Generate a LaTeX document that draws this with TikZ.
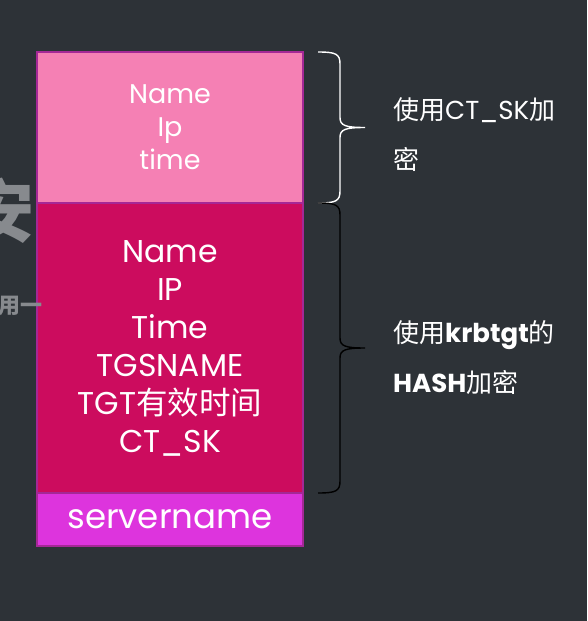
\documentclass[tikz,border=0pt]{standalone}
\usepackage{fontspec}
\setmainfont{Poppins}
\newfontfamily\cjk{Noto Sans CJK SC}
\usetikzlibrary{calc}
\definecolor{SlideBg}{RGB}{45,50,55}
\definecolor{TktPink}{RGB}{245,128,180}
\definecolor{TktRed}{RGB}{204,12,94}
\definecolor{TktMagenta}{RGB}{221,52,221}
\definecolor{TktEdge}{RGB}{165,40,150}
\definecolor{FaintGray}{RGB}{135,138,142}

% curly brace to the right of a ticket part
\newcommand{\segbrace}[2]{%
  \draw[#2, line width=1.4pt] let \p1=(#1.north east), \p2=(#1.south east), \p3=(#1.east) in
    (\x1+15pt,\y1) .. controls (\x1+33pt,\y1) and (\x1+37pt,\y1-2pt) .. (\x1+37pt,\y1-12pt)
    -- (\x1+37pt,\y3+10pt) .. controls (\x1+37pt,\y3+2pt) and (\x1+42pt,\y3) .. (\x1+62pt,\y3)
    .. controls (\x1+42pt,\y3) and (\x1+37pt,\y3-2pt) .. (\x1+37pt,\y3-10pt)
    -- (\x1+37pt,\y2+12pt) .. controls (\x1+37pt,\y2+2pt) and (\x1+33pt,\y2) .. (\x1+15pt,\y2);}

\tikzset{
  seg/.style={draw=TktEdge, line width=1.5pt, minimum width=266pt, align=center,
    text=white, inner sep=0pt, outer sep=0pt, anchor=north west},
  note/.style={text=white, anchor=west, align=left, inner sep=0pt,
    font=\fontsize{26}{50}\selectfont},
}

\begin{document}
\begin{tikzpicture}[x=1pt,y=-1pt]
  \fill[SlideBg] (0,0) rectangle (587,621);
  \useasboundingbox (0,0) rectangle (587,621);

  % ticket parts
  \node[seg, fill=TktPink, minimum height=151pt, font=\fontsize{27}{33}\selectfont]
    (ctPart) at (37,52) {Name\\Ip\\time};
  \node[seg, fill=TktRed, minimum height=290pt, font=\fontsize{31.5}{38}\selectfont]
    (krbPart) at (ctPart.south west) {Name\\IP\\Time\\TGSNAME\\TGT{\cjk 有效时间}\\CT\_SK};
  \node[seg, fill=TktMagenta, minimum height=53pt, font=\fontsize{34}{34}\selectfont]
    (srvPart) at (krbPart.south west) {servername};

  % faint slide text behind
  \begin{scope}
    \clip (0,0) rectangle (587,621);
    \node[FaintGray, font=\cjk\bfseries\fontsize{68}{68}\selectfont] (bgAn) at (1,211) {安};
    \node[FaintGray, anchor=east, font=\cjk\bfseries\fontsize{22}{22}\selectfont] (bgYong) at (46,306) {用一};
  \end{scope}

  % braces
  \segbrace{ctPart}{white}
  \segbrace{krbPart}{black}

  % notes
  \node[note] (ctNote) at (393,135) {{\cjk 使用}CT\_SK{\cjk 加}\\{\cjk 密}};
  \node[note] (krbNote) at (393,358) {{\cjk 使用}\textbf{krbtgt}{\cjk 的}\\\textbf{HASH}{\cjk 加密}};
\end{tikzpicture}
\end{document}
